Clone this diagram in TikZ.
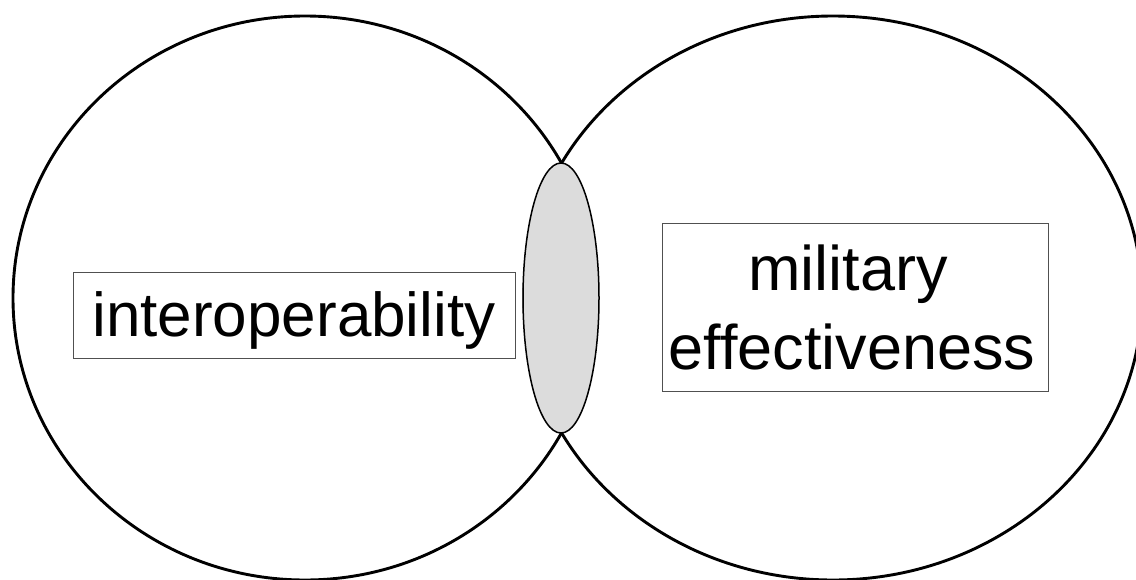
\documentclass[tikz,border=0pt]{standalone}
\usepackage{fontspec}
\setmainfont[Ligatures={NoCommon}]{Liberation Sans}
\definecolor{lensgray}{HTML}{DCDCDC}
\definecolor{boxgray}{HTML}{505050}
\begin{document}
\begin{tikzpicture}[x=1pt,y=-1pt,
  bigring/.style={draw=black,line width=2.9pt},
  lens/.style={draw=black,fill=lensgray,line width=1.5pt},
  labelbox/.style={draw=boxgray,line width=0.9pt,rectangle,inner sep=0pt,align=center}]
\useasboundingbox (0,0) rectangle (1136,579);
\clip (0,0) rectangle (1136,579);
\fill[white] (0,0) rectangle (1136,579);
\coordinate (lc) at (305,298);
\coordinate (rc) at (833,298);
\coordinate (mc) at (561,298);
\draw[bigring] (lc) ellipse [x radius=292, y radius=282];
\draw[bigring] (rc) ellipse [x radius=309, y radius=282];
\draw[lens] (mc) ellipse [x radius=38, y radius=135];
\node[labelbox,font=\fontsize{62}{79}\selectfont,minimum width=442,minimum height=86,text height=44pt,text depth=2pt] (interop) at (294,315) {interoperability};
\node[labelbox,font=\fontsize{63}{79}\selectfont,minimum width=386,minimum height=168] (mileff) at (855,307) {military\hspace*{14pt}\\effectiveness\hspace*{6pt}};
\end{tikzpicture}
\end{document}
